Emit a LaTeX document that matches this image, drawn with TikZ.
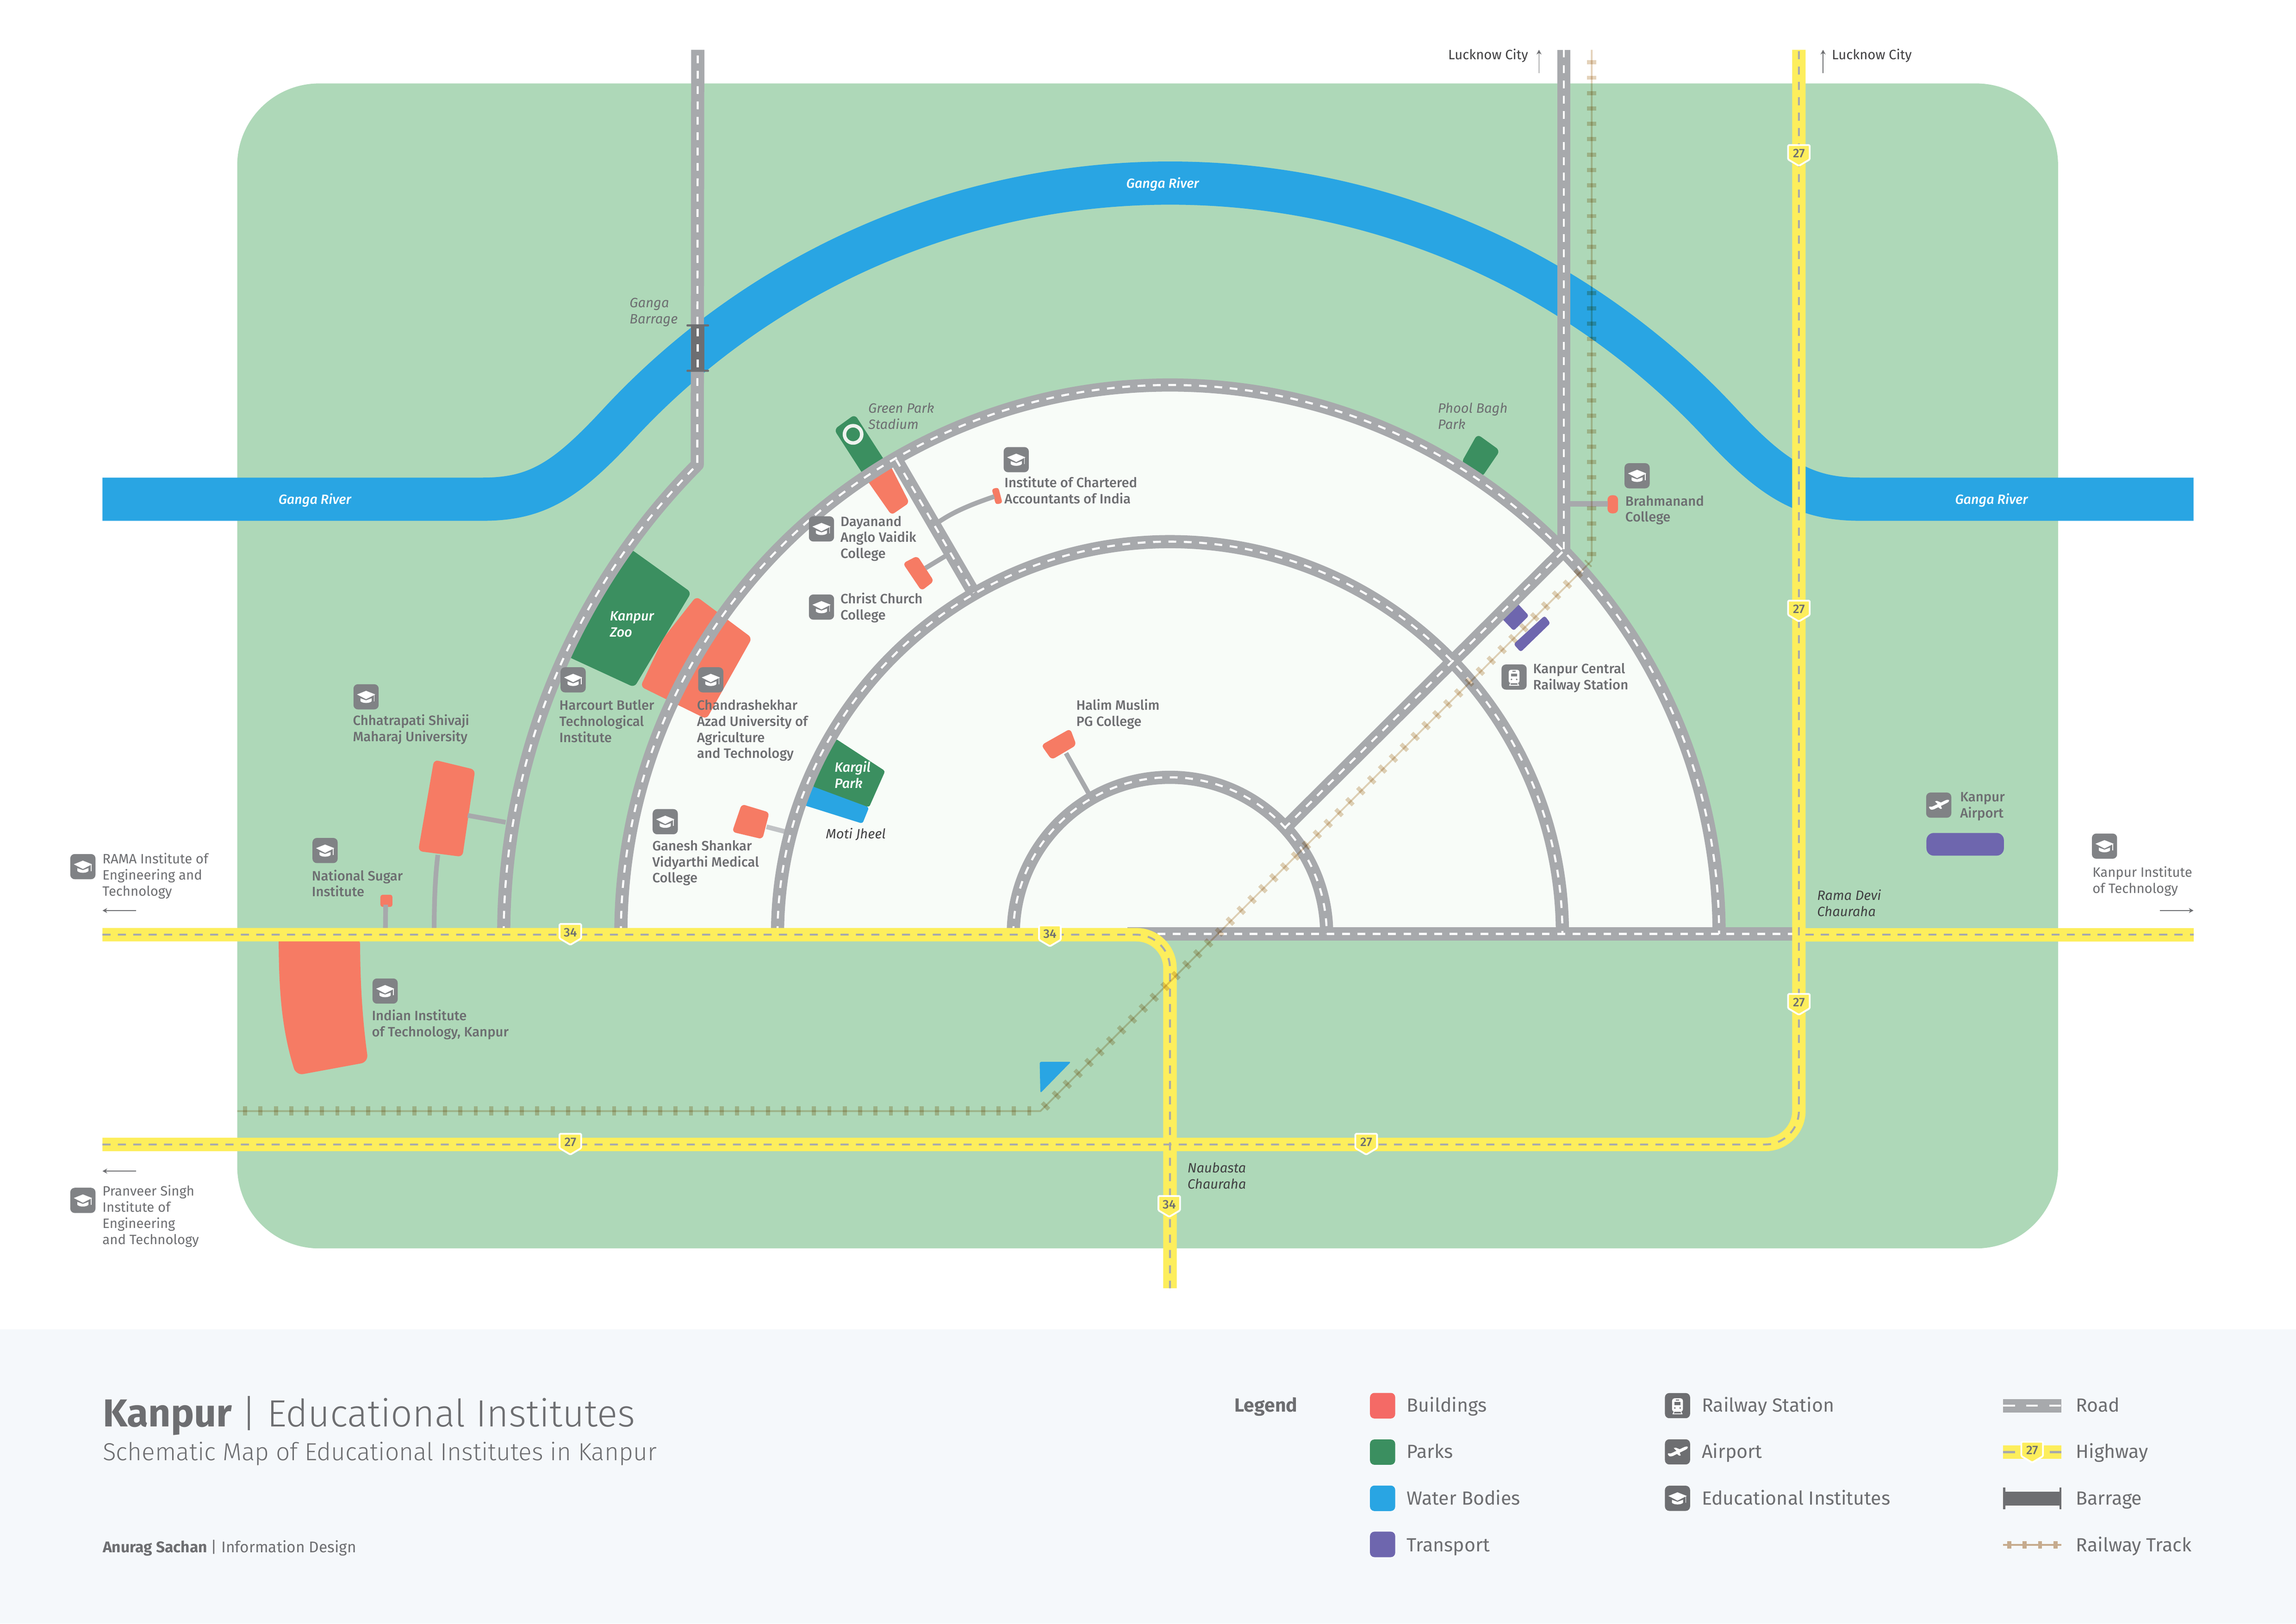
\documentclass[tikz,border=0pt]{standalone}
\usepackage{fontspec}
\setmainfont{Fira Sans}
\newfontfamily\lightf{Fira Sans Light}
\newfontfamily\medf[ItalicFont={Fira Sans Medium Italic}]{Fira Sans Medium}
\usetikzlibrary{arrows.meta}
\definecolor{landc}{HTML}{AED8B8}
\definecolor{innerc}{HTML}{F8FCF8}
\definecolor{riverc}{HTML}{29A5E3}
\definecolor{roadc}{HTML}{A7A9AC}
\definecolor{hwyc}{HTML}{FDEE5C}
\definecolor{bldc}{HTML}{F67B64}
\definecolor{lgbldc}{HTML}{F46A66}
\definecolor{parkc}{HTML}{3B8F60}
\definecolor{purpc}{HTML}{6E66AE}
\definecolor{iconc}{HTML}{808285}
\definecolor{darkc}{HTML}{6D6E71}
\definecolor{inkc}{HTML}{414042}
\definecolor{footc}{HTML}{F5F8FB}
\definecolor{railc}{HTML}{E4D2BA}
\definecolor{raillg}{HTML}{C6AB8E}
\definecolor{ringc}{HTML}{EEF2EE}
\tikzset{
  road/.style={draw=roadc,line width=9pt,line join=round},
  roaddash/.style={draw=white,line width=1.4pt,dash pattern=on 5.3pt off 5.2pt},
  hwy/.style={draw=hwyc,line width=9.2pt,rounded corners=23pt},
  hwydash/.style={draw=roadc,line width=1.3pt,dash pattern=on 5.5pt off 5pt,rounded corners=23pt},
  spur/.style={draw=roadc,line width=3.2pt},
  bld/.style={fill=bldc,rounded corners=2.5pt},
  park/.style={fill=parkc,rounded corners=3pt},
  trans/.style={fill=purpc,rounded corners=1.5pt},
  railline/.style={draw=railc,line width=1.2pt,line join=round},
  railtie/.style={draw=railc,line width=6.3pt,dash pattern=on 2.8pt off 7.7pt},
  lbl/.style={anchor=north west,inner sep=0pt,outer sep=0pt,align=left,yshift=5.5pt,text=darkc,font=\fontsize{9.25}{11}\medf},
  lbli/.style={lbl,font=\fontsize{9.2}{11}\selectfont\itshape},
  lbld/.style={lbl,text=inkc,font=\fontsize{9.2}{11}\selectfont\itshape},
  lblw/.style={lbl,text=white,font=\fontsize{9.2}{11}\medf\itshape},
  rivertxt/.style={inner sep=0pt,text=white,font=\fontsize{9.1}{11}\medf\itshape},
  shieldtxt/.style={inner sep=0pt,text=darkc,font=\fontsize{8.5}{8.5}\medf},
  lgtxt/.style={anchor=base west,inner sep=0pt,text=darkc,font=\fontsize{13}{15}\selectfont},
  arrowline/.style={draw=darkc,line width=.5pt,-{Stealth[length=3.2pt,width=3.4pt]}},
  icn/.style={fill=iconc},
  lgn/.style={fill=darkc},
  edu/.pic={
    \path[pic actions,rounded corners=3pt] (-8.6,-8.6) rectangle (8.6,8.6);
    \fill[white] (-6.2,-1.6) -- (0,-4.1) -- (6.3,-1.6) -- (0,1.6) -- cycle;
    \fill[white] (-3.8,1) -- (0,2.4) -- (3.8,1) -- (3.8,3) .. controls (2.5,4.6) and (-2.5,4.6) .. (-3.8,3) -- cycle;
    \draw[white,line width=.5pt] (5.6,-1.3) -- (5.6,3);
  },
  train/.pic={
    \path[pic actions,rounded corners=3pt] (-8.6,-8.6) rectangle (8.6,8.6);
    \fill[white,rounded corners=1.6pt] (-3.7,-5) rectangle (3.7,4.2);
    \path[pic actions] (-2.1,-2.4) rectangle (2.1,-.3);
    \path[pic actions] (-1,-4.2) rectangle (1,-3.6);
    \path[pic actions] (-1.8,1.6) circle (.6);
    \path[pic actions] (1.8,1.6) circle (.6);
    \draw[white,line width=.6pt] (-3.4,5.6) -- (3.4,5.6) (-2.4,4.2) -- (-3,5.6) (2.4,4.2) -- (3,5.6);
  },
  plane/.pic={
    \path[pic actions,rounded corners=3pt] (-8.6,-8.6) rectangle (8.6,8.6);
    \fill[white,rounded corners=.5pt] (-6.9,1.2) -- (-6.2,.9) -- (-4.8,1.2) -- (4.4,-3.2) .. controls (6,-3.9) and (7.2,-3.6) .. (6.9,-2.8) .. controls (6.6,-2) and (5,-1.2) .. (3.6,-.5) -- (-3.6,3) -- (-5.6,3.1) -- cycle;
    \fill[white] (-2.6,-2.6) -- (-1.2,-2.9) -- (2,-1.6) -- (-.4,-.4) -- cycle;
    \fill[white] (-.6,1.2) -- (1.4,.3) -- (2.2,2.4) -- (1.2,2.6) -- cycle;
  },
}
\newcommand\fl{\rule{0pt}{8.5pt}}
\newcommand\lbl[4][lbl]{\node[#1] (#2) at (#3) {\fl #4};}
\newcommand\shield[3]{%
  \begin{scope}[shift={(#2)}]
    \fill[hwyc,draw=white,line width=1.2pt,line join=round,rounded corners=.6pt] (-7.4,-7.3) -- (7.4,-7.3) -- (7.4,2.5) -- (0,6.9) -- (-7.4,2.5) -- cycle;
    \node[shieldtxt] (#1) at (0,-1.5) {#3};
  \end{scope}}
\begin{document}
\begin{tikzpicture}[x=1pt,y=-1pt]
\useasboundingbox (0,0) rectangle (1568,1109.1);
\fill[white] (0,0) rectangle (1568,1109.1);
\fill[footc] (0,908) rectangle (1568,1109.1);
% land
\fill[landc,rounded corners=56pt] (162,57) rectangle (1405.5,852.8);
% river
\draw[riverc,line width=29.5pt] (70,341) -- (330,341) .. controls (368,341) and (388,327) .. (424,288)
  arc[start angle=223.03,end angle=316.97,radius=513] .. controls (1210,327) and (1232,341) .. (1270,341) -- (1498,341);
% inner disc
\fill[innerc] (424,638) arc[start angle=180,end angle=360,radius=375] -- cycle;
% parks and buildings under roads
\fill[park] (430.4,374.8) -- (472.1,404.7) -- (452,438) -- (433.2,469.5) -- (387.1,448.2) -- (407.3,410.5) -- cycle;
\fill[bld,rounded corners=3pt] (475.5,407.4) -- (513.6,435.8) -- (482.5,491.2) -- (437.4,469) -- (453,436) -- cycle;
\fill[riverc,rounded corners=1.5pt] (554.5,536.6) -- (593.5,551.5) -- (589,562.6) -- (549,550) -- cycle;
\fill[park,rounded corners=1.5pt] (570.5,504.5) -- (604.5,526.7) -- (593.5,551.5) -- (554.5,537) -- cycle;
\fill[park] (583.8,283.1) -- (605,316) -- (590,325) -- (569.6,293.4) -- cycle;
\draw[ringc,line width=2.4pt] (582.6,296.7) circle (5.9);
\fill[bld] (606,314) -- (621,343.4) -- (608.8,351.8) -- (590,325) -- cycle;
\fill[park] (1008.9,296.6) -- (1024.4,307.8) -- (1012,326) -- (998,316) -- cycle;
\fill[bld,rounded corners=3pt] (296.4,519) -- (324.5,525.8) -- (315.8,585.3) -- (285.6,581.4) -- cycle;
\fill[bld,rounded corners=5pt] (190.3,640) -- (245.9,640) .. controls (246,675) and (248,700) .. (251.5,725.5) -- (202.2,734.6) .. controls (193,705) and (190.5,680) .. (190.3,640) -- cycle;
\fill[bld,rounded corners=1.5pt] (259.8,611.2) rectangle (268,619.5);
\fill[bld,rounded corners=1.5pt] (677.3,334) -- (681.8,333) -- (684.6,343.6) -- (680,344.6) -- cycle;
\fill[bld] (616.6,384.8) -- (626.5,379.7) -- (637.8,397) -- (629.3,403.6) -- cycle;
\fill[bld] (506.5,549.3) -- (525.4,555) -- (520.7,573.2) -- (500,568.3) -- cycle;
\fill[bld] (730.9,497.8) -- (735.1,509) -- (718.2,519) -- (711.1,509) -- cycle;
\fill[bld,rounded corners=3pt] (1097.8,338.3) rectangle (1105,350.7);
\fill[trans] (1035.7,411.5) -- (1044.1,420.6) -- (1033.7,430.9) -- (1025,421.8) -- cycle;
\fill[trans] (1054.9,420.6) -- (1058.8,425.7) -- (1038.5,445.4) -- (1033.7,440) -- cycle;
\fill[purpc,rounded corners=5pt] (1315.6,569) rectangle (1368.5,584.5);
\fill[riverc,rounded corners=1.2pt] (710,725.3) -- (731.4,725.3) -- (710.5,746.7) -- cycle;
% spurs
\draw[spur] (319.4,557) -- (345.3,561.7);
\draw[spur] (299,584) .. controls (297,600) and (296.5,620) .. (296.5,634);
\draw[spur] (263.4,618) -- (263.2,634);
\draw[spur] (641,356.6) .. controls (652,349) and (665,344) .. (679,339.2);
\draw[spur] (632,388.1) -- (646.2,379.5);
\draw[spur,roadc!70!white] (523.5,564.8) -- (539,568.8);
\draw[spur] (728,514.5) -- (743.6,542.2);
\draw[spur,line width=3.8pt] (1068,344.3) -- (1098,344.3);
% roads: gray bases
\draw[road] (692,638) arc[start angle=180,end angle=360,radius=107];
\draw[road] (531,638) arc[start angle=180,end angle=360,radius=268];
\draw[road] (424,638) arc[start angle=180,end angle=360,radius=375];
\draw[road] (344,638) arc[start angle=180,end angle=224.8,radius=455] -- (476.5,34);
\draw[road] (1068,34) -- (1068,376.7);
\draw[road] (1067,377) -- (878,565);
\draw[road] (612,314) -- (665,405);
\draw[road] (770,638) -- (1228,638);
% roads: dashes
\draw[roaddash] (692,638) arc[start angle=180,end angle=360,radius=107];
\draw[roaddash] (531,638) arc[start angle=180,end angle=360,radius=268];
\draw[roaddash] (424,638) arc[start angle=180,end angle=360,radius=375];
\draw[roaddash] (344,638) arc[start angle=180,end angle=224.8,radius=455] -- (476.5,34);
\draw[roaddash] (1068,34) -- (1068,376.7);
\draw[roaddash] (1067,377) -- (878,565);
\draw[roaddash] (612,314) -- (665,405);
\draw[roaddash] (780,638) -- (1228,638);
% barrage
\fill[darkc] (472,222.2) rectangle (481,253.4);
\fill[darkc,rounded corners=.4pt] (468.8,221.6) rectangle (484.2,223);
\fill[darkc,rounded corners=.4pt] (468.8,252.6) rectangle (484.2,254);
\draw[white,line width=1.4pt,dash pattern=on 5.3pt off 5.2pt] (476.5,224.5) -- (476.5,254);
% highways
\draw[hwy] (70,638.5) -- (799,638.5) -- (799,880);
\draw[hwy] (70,781.8) -- (1228.5,781.8) -- (1228.5,34);
\draw[hwy,rounded corners=0pt] (1228,638.5) -- (1498,638.5);
\draw[hwydash] (70,638.5) -- (799,638.5) -- (799,880);
\draw[hwydash] (70,781.8) -- (1228.5,781.8) -- (1228.5,34);
\draw[hwydash] (1233,638.5) -- (1498,638.5);
% railway
\begin{scope}[blend mode=multiply]
\draw[railline] (162,759) -- (710.5,759) -- (1087,383) -- (1087,34);
\draw[railtie] (166,759) -- (710.5,759);
\draw[railtie] (713,756.5) -- (1085,384.5);
\draw[railtie] (1087,380) -- (1087,34);
\end{scope}
% shields
\shield{sa}{1228.5,106.4}{27}
\shield{sb}{1228.5,417.6}{27}
\shield{sc}{1228.5,686.3}{27}
\shield{sd}{389.5,781.8}{27}
\shield{se}{933,781.8}{27}
\shield{sf}{389.5,638.5}{34}
\shield{sg}{717,639.5}{34}
\shield{sh}{798.5,824.3}{34}
% icons
\pic[icn] at (391.4,464.4) {edu};
\pic[icn] at (485.4,464.4) {edu};
\pic[icn] at (561,361.3) {edu};
\pic[icn] at (561,414.7) {edu};
\pic[icn] at (454.3,561.3) {edu};
\pic[icn] at (694,314) {edu};
\pic[icn] at (1118,325) {edu};
\pic[icn] at (250,476) {edu};
\pic[icn] at (222,581) {edu};
\pic[icn] at (263,677) {edu};
\pic[icn] at (56.6,592) {edu};
\pic[icn] at (56.6,820) {edu};
\pic[icn] at (1437.2,578) {edu};
\pic[icn] at (1034,462.5) {train};
\pic[icn] at (1324,550) {plane};
% labels
\lbl{lchart}{686,330}{Institute of Chartered\\Accountants of India}
\lbl{ldav}{574,356.4}{Dayanand\\Anglo Vaidik\\College}
\lbl{lcc}{574,409.3}{Christ Church\\College}
\lbl{lhbti}{382,482}{Harcourt Butler\\Technological\\Institute}
\lbl{lcsa}{476,482}{Chandrashekhar\\Azad University of\\Agriculture\\and Technology}
\lbl{lcsj}{241,492.5}{Chhatrapati Shivaji\\Maharaj University}
\lbl{lnsi}{213,598.5}{National Sugar\\Institute}
\lbl{liit}{254,694}{Indian Institute\\of Technology, Kanpur}
\lbl{lgsv}{445.5,578}{Ganesh Shankar\\Vidyarthi Medical\\College}
\lbl{lhal}{735,482}{Halim Muslim\\PG College}
\lbl{lbra}{1110,342.5}{Brahmanand\\College}
\lbl{lrail}{1047,457}{Kanpur Central\\Railway Station}
\lbl{lair}{1338.6,544.7}{Kanpur\\Airport}
\lbl[lbl,font=\fontsize{9.25}{11}\selectfont]{lkit}{1429,596}{Kanpur Institute\\of Technology}
\lbl[lbl,font=\fontsize{9.25}{11}\selectfont]{lrama}{70,587}{RAMA Institute of\\Engineering and\\Technology}
\lbl[lbl,font=\fontsize{9.25}{11}\selectfont]{lpsit}{70,814}{Pranveer Singh\\Institute of\\Engineering\\and Technology}
\lbl[lbl,text=inkc,font=\fontsize{9.25}{11}\selectfont]{lluc}{989,37.5}{Lucknow City}
\lbl[lbl,text=inkc,font=\fontsize{9.25}{11}\selectfont]{lluc2}{1251,37.5}{Lucknow City}
\lbl[lbld]{lrd}{1241,612}{Rama Devi\\Chauraha}
\lbl[lbld]{lnau}{811,798}{Naubasta\\Chauraha}
\lbl[lbld]{lmoti}{564,570}{Moti Jheel}
\lbl[lbli]{lgp}{593,279}{Green Park\\Stadium}
\lbl[lbli]{lpb}{982,279}{Phool Bagh\\Park}
\lbl[lbli]{lgb}{430,207}{Ganga\\Barrage}
\lbl[lblw]{lzoo}{416.5,421}{Kanpur\\Zoo}
\lbl[lblw]{lkp}{570,524.5}{Kargil\\Park}
\node[rivertxt] (r1) at (794,125.7) {Ganga River};
\node[rivertxt] (r2) at (215,341.7) {Ganga River};
\node[rivertxt] (r3) at (1360,341.7) {Ganga River};
% direction arrows
\coordinate (a1) at (1051,50); \coordinate (a1e) at (1051,34);
\coordinate (a2) at (1245,50); \coordinate (a2e) at (1245,34);
\coordinate (a3) at (93,622); \coordinate (a3e) at (70,622);
\coordinate (a4) at (93,800); \coordinate (a4e) at (70,800);
\coordinate (a5) at (1475,622); \coordinate (a5e) at (1498,622);
\foreach \s/\e in {a1/a1e,a2/a2e,a3/a3e,a4/a4e,a5/a5e} \draw[arrowline] (\s) -- (\e);
% footer
\node[anchor=base west,inner sep=0pt,text=darkc,font=\fontsize{26.6}{30}\selectfont] (title) at (70,974.5) {\bfseries Kanpur {\fontsize{25.9}{30}\lightf\mdseries | Educational Institutes}};
\node[anchor=base west,inner sep=0pt,text=darkc,font=\fontsize{16.8}{20}\selectfont] (subtitle) at (70,997.5) {\lightf Schematic Map of Educational Institutes in Kanpur};
\node[anchor=base west,inner sep=0pt,text=darkc,font=\fontsize{10.6}{12}\selectfont] (credit) at (70,1060.5) {\bfseries Anurag Sachan {\mdseries | Information Design}};
% legend
\node[lgtxt,font=\fontsize{13}{15}\selectfont\bfseries] (lg) at (843,964.6) {Legend};
\fill[lgbldc,rounded corners=3pt] (935.6,951.5) rectangle (952.8,969);
\fill[parkc,rounded corners=3pt] (935.6,983.3) rectangle (952.8,1000.6);
\fill[riverc,rounded corners=3pt] (935.6,1014.8) rectangle (952.8,1032.2);
\fill[purpc,rounded corners=3pt] (935.6,1046.3) rectangle (952.8,1063.7);
\node[lgtxt] (t1) at (960.5,964.6) {Buildings};
\node[lgtxt] (t2) at (960.5,996.2) {Parks};
\node[lgtxt] (t3) at (960.5,1028) {Water Bodies};
\node[lgtxt] (t4) at (960.5,1060) {Transport};
\pic[lgn] at (1145.6,960.2) {train};
\pic[lgn] at (1145.6,991.8) {plane};
\pic[lgn] at (1145.6,1023.5) {edu};
\node[lgtxt] (t5) at (1162,964.6) {Railway Station};
\node[lgtxt] (t6) at (1162,996.2) {Airport};
\node[lgtxt] (t7) at (1162,1028) {Educational Institutes};
\fill[roadc] (1368,955.8) rectangle (1407.8,964.8);
\draw[white,line width=1.5pt,dash pattern=on 8pt off 7.7pt] (1368,960.2) -- (1407.8,960.2);
\fill[hwyc] (1368,987.4) rectangle (1407.8,996.6);
\draw[roadc,line width=1.5pt] (1368,992) -- (1376,992);
\draw[roadc,line width=1.5pt] (1399.8,992) -- (1407.8,992);
\shield{sl}{1387.8,992.2}{27}
\fill[darkc] (1368,1018.9) rectangle (1407.8,1028.4);
\fill[darkc] (1368,1016) rectangle (1369.4,1031);
\fill[darkc] (1406.4,1016) rectangle (1407.8,1031);
\draw[raillg,line width=1.4pt] (1368,1055.3) -- (1407.8,1055.3);
\draw[raillg,line width=5.3pt,dash pattern=on 2.8pt off 7.7pt] (1370.8,1055.3) -- (1407.8,1055.3);
\node[lgtxt] (t8) at (1417.5,964.6) {Road};
\node[lgtxt] (t9) at (1417.5,996.2) {Highway};
\node[lgtxt] (t10) at (1417.5,1028) {Barrage};
\node[lgtxt] (t11) at (1417.5,1060) {Railway Track};
\end{tikzpicture}
\end{document}
